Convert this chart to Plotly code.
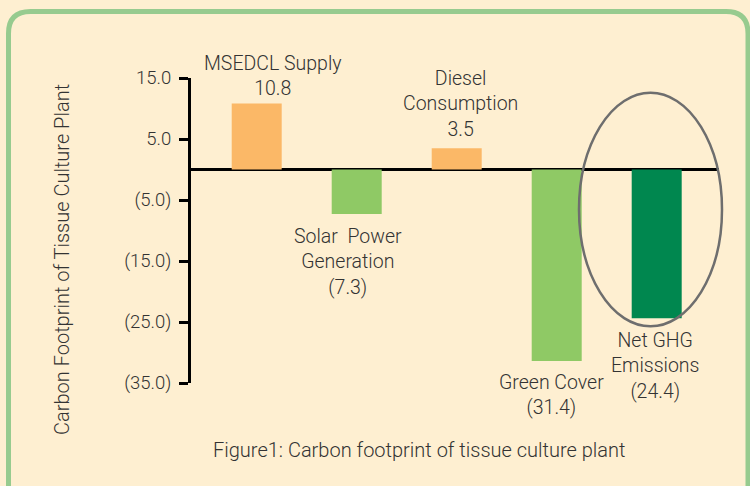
import plotly.graph_objects as go

# ---- data ----
categories = ["MSEDCL Supply", "Solar Power Generation", "Diesel Consumption", "Green Cover", "Net GHG Emissions"]
values = [10.8, -7.3, 3.5, -31.4, -24.4]
label_texts = ["MSEDCL Supply<br>10.8", "Solar  Power<br>Generation<br>(7.3)", "Diesel<br>Consumption<br>3.5",
               "Green Cover<br>(31.4)", "Net GHG<br>Emissions<br>(24.4)"]
tick_vals = [15, 5, -5, -15, -25, -35]
tick_text = ["15.0", "5.0", "(5.0)", "(15.0)", "(25.0)", "(35.0)"]
y_title = "Carbon Footprint of Tissue Culture Plant"
caption = "Figure1: Carbon footprint of tissue culture plant"

# ---- styles ----
W, H = 750, 486
L, R, T, B = 191, 31, 77.7, 102.7
PW, PH = W - L - R, H - T - B
bar_colors = ["#FBB867", "#8FC965", "#FBB867", "#8FC965", "#00874F"]
bg = "#FEEFD1"
txt = "#333333"
FONT = "Roboto"
WEIGHT = 300

def px(x):
    return (x - L) / PW

def py(y):
    return (H - B - y) / PH

xs = list(range(len(categories)))

fig = go.Figure(go.Bar(x=xs, y=values, marker=dict(color=bar_colors, line=dict(width=0)),
                       width=0.5, hoverinfo="skip"))

# label positions (pixels) per bar: (center x, center y of first line)
label_pos = [(272.5, 62), (348, 235), (460.5, 77), (551, 382), (655, 340)]
annotations = []
for t, (cx, cy) in zip(label_texts, label_pos):
    annotations.append(dict(text=t, xref="paper", yref="paper", x=px(cx), y=py(cy - 12.5),
                            xanchor="center", yanchor="top", showarrow=False, align="center",
                            font=dict(family=FONT, size=19.5, color=txt, weight=WEIGHT)))
annotations.append(dict(text=y_title, xref="paper", yref="paper", x=px(62), y=py(260), textangle=-90,
                        xanchor="center", yanchor="middle", showarrow=False,
                        font=dict(family=FONT, size=20, color=txt, weight=WEIGHT)))
annotations.append(dict(text=caption, xref="paper", yref="paper", x=px(418.5), y=py(450),
                        xanchor="center", yanchor="middle", showarrow=False,
                        font=dict(family=FONT, size=20, color=txt, weight=WEIGHT)))

# rounded border path (pixels -> paper)
x0b, y0b, x1b, y1b, r = 8.5, 11, 748, 520, 22
path = (f"M {px(x0b)},{py(y0b + r)} "
        f"Q {px(x0b)},{py(y0b)} {px(x0b + r)},{py(y0b)} "
        f"L {px(x1b - r)},{py(y0b)} "
        f"Q {px(x1b)},{py(y0b)} {px(x1b)},{py(y0b + r)} "
        f"L {px(x1b)},{py(y1b)} L {px(x0b)},{py(y1b)} Z")

shapes = [
    dict(type="path", path=path, xref="paper", yref="paper", line=dict(color="#97CB8F", width=5), layer="below"),
    dict(type="circle", xref="paper", yref="paper", x0=px(579), x1=px(722), y0=py(92.5), y1=py(326.5),
         line=dict(color="#6E6E6E", width=2.5)),
]

fig.update_layout(
    width=W, height=H,
    margin=dict(l=L, r=R, t=T, b=B),
    paper_bgcolor=bg, plot_bgcolor=bg,
    showlegend=False,
    font=dict(family=FONT, color=txt),
    xaxis=dict(range=[-0.657, 4.623], showticklabels=False, showgrid=False, zeroline=False,
               showline=False, ticks=""),
    yaxis=dict(range=[-35, 15], tickvals=tick_vals, ticktext=tick_text, showgrid=False,
               zeroline=True, zerolinecolor="black", zerolinewidth=2.5,
               showline=True, linecolor="black", linewidth=3,
               ticks="outside", ticklen=9, tickwidth=3, tickcolor="black",
               ticklabelstandoff=4,
               tickfont=dict(family=FONT, size=18.5, color=txt, weight=WEIGHT)),
    annotations=annotations,
    shapes=shapes,
)

fig.write_html("out.html", config={"displayModeBar": False},
               post_script="document.body.style.margin='0';document.body.style.padding='0';"
                           "document.body.style.background='" + bg + "';")
